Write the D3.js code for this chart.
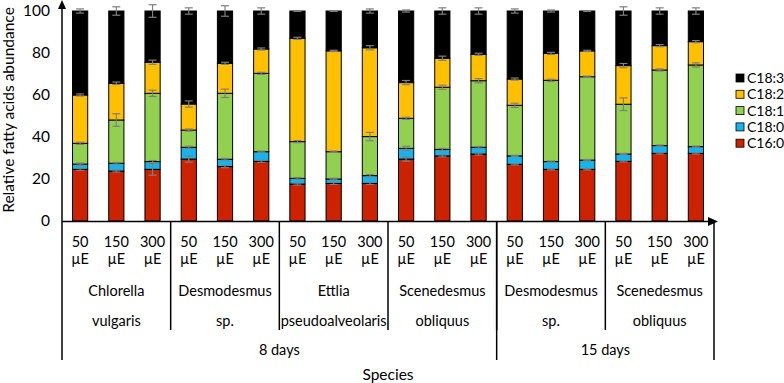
<!DOCTYPE html>
<html>
<head>
<meta charset="utf-8">
<script src="https://cdn.jsdelivr.net/npm/d3@7"></script>
<style>
  body { margin: 0; background: #fff; }
  text { font-family: Lato, "Open Sans", sans-serif; fill: #000; }
</style>
</head>
<body>
<div id="chart"></div>
<script>
// light intensities (one bar each) and groups
const lights = ["50", "150", "300"];
const species = [
  ["Chlorella", "vulgaris"],
  ["Desmodesmus", "sp."],
  ["Ettlia", "pseudoalveolaris"],
  ["Scenedesmus", "obliquus"],
  ["Desmodesmus", "sp."],
  ["Scenedesmus", "obliquus"]
];
const periods = [
  { label: "8 days", groups: 4 },
  { label: "15 days", groups: 2 }
];
const seriesNames = ["C16:0", "C18:0", "C18:1", "C18:2", "C18:3"];
const seriesColors = ["#cc2200", "#16b4ec", "#92d050", "#ffc000", "#000000"];

// values per bar (18 bars, in order of species x light)
const c160 = [24.6, 23.8, 24.6, 29.5, 25.9, 28.4, 17.6, 17.9, 17.9, 29.5, 31.0, 31.9, 27.0, 24.6, 24.6, 28.4, 32.2, 32.2];
const c180 = [2.5, 3.7, 3.7, 5.6, 3.5, 4.6, 2.7, 2.1, 3.7, 5.1, 3.1, 3.2, 4.0, 3.7, 4.4, 3.5, 3.7, 3.2];
const c181 = [9.9, 20.6, 32.5, 8.2, 31.4, 37.3, 17.5, 13.0, 18.6, 14.3, 29.6, 31.7, 24.1, 38.7, 39.7, 23.7, 36.0, 38.9];
const c182 = [23.0, 17.5, 14.8, 12.4, 14.3, 11.6, 49.2, 48.0, 42.3, 17.0, 13.8, 12.6, 12.5, 12.8, 12.3, 18.4, 11.6, 11.1];
const c183 = [40.0, 34.4, 24.4, 44.3, 24.9, 18.1, 13.0, 19.0, 17.5, 34.1, 22.5, 20.6, 32.4, 20.2, 19.0, 26.0, 16.5, 14.6];

// error bars (+/-) for each segment
const e160 = [0.5, 0.5, 2.8, 1.5, 0.5, 0.5, 0.5, 0.5, 0.5, 1.0, 0.5, 0.5, 0.3, 0.3, 0.3, 0.3, 0.3, 0.3];
const e180 = [0.5, 0.4, 0.5, 0.5, 0.4, 0.3, 0.4, 0.4, 0.5, 1.0, 0.5, 0.4, 0.3, 0.3, 0.3, 0.3, 0.3, 0.3];
const e181 = [0.5, 3.0, 1.5, 0.5, 2.0, 0.5, 0.5, 0.3, 2.0, 0.5, 1.0, 1.0, 1.0, 0.5, 0.3, 3.0, 0.5, 1.0];
const e182 = [0.5, 0.6, 1.0, 1.5, 0.5, 0.5, 0.5, 0.3, 1.0, 1.0, 1.0, 0.5, 0.5, 0.5, 0.3, 1.0, 0.5, 0.5];
const e183 = [1.0, 2.0, 3.0, 1.5, 2.5, 1.5, 0.2, 0.2, 1.0, 0.5, 1.5, 1.5, 1.0, 0.5, 0.2, 2.0, 1.5, 1.5];

const values = [c160, c180, c181, c182, c183];
const errors = [e160, e180, e181, e182, e183];

const W = 784, H = 383;
const plotLeft = 62, plotRight = 714, plotTop = 11, plotBase = 221;

const svg = d3.select("#chart").append("svg")
  .attr("width", W).attr("height", H);

const bars = d3.range(species.length * lights.length);

const x = d3.scaleBand()
  .domain(bars)
  .range([plotLeft, plotRight])
  .paddingInner(0.58)
  .paddingOuter(0.29);

const y = d3.scaleLinear()
  .domain([0, 100])
  .range([plotBase, plotTop]);

// stack
const rows = bars.map(i => {
  let r = { i: i };
  seriesNames.forEach((s, k) => r[s] = values[k][i]);
  return r;
});
const stacked = d3.stack().keys(seriesNames)(rows);

const layer = svg.selectAll(".layer")
  .data(stacked)
  .join("g")
  .attr("class", "layer")
  .attr("fill", (d, k) => seriesColors[k]);

layer.selectAll("rect")
  .data(d => d)
  .join("rect")
  .attr("x", d => x(d.data.i))
  .attr("y", d => y(d[1]))
  .attr("width", x.bandwidth())
  .attr("height", d => y(d[0]) - y(d[1]))
  .attr("stroke", "#000")
  .attr("stroke-width", 1);

// error bars
const errG = svg.append("g")
  .attr("stroke", "#7f7f7f")
  .attr("stroke-width", 1.2);
stacked.forEach((s, k) => {
  s.forEach(d => {
    const e = errors[k][d.data.i];
    const cx = x(d.data.i) + x.bandwidth() / 2;
    const y1 = y(d[1] + e), y2 = y(d[1] - e);
    errG.append("line").attr("x1", cx).attr("x2", cx).attr("y1", y1).attr("y2", y2);
    errG.append("line").attr("x1", cx - 4).attr("x2", cx + 4).attr("y1", y1).attr("y2", y1);
    errG.append("line").attr("x1", cx - 4).attr("x2", cx + 4).attr("y1", y2).attr("y2", y2);
  });
});

// y axis
const yAxis = svg.append("g")
  .attr("transform", `translate(${plotLeft},0)`)
  .call(d3.axisLeft(y).tickValues([0, 20, 40, 60, 80, 100]).tickSize(0).tickPadding(12));
yAxis.select(".domain").remove();
yAxis.selectAll("text").style("font-size", "15.5px").style("font-family", "Lato, 'Open Sans', sans-serif");

svg.append("line")
  .attr("x1", plotLeft).attr("x2", plotLeft)
  .attr("y1", 8).attr("y2", 360)
  .attr("stroke", "#000").attr("stroke-width", 1.5);
svg.append("path")
  .attr("d", `M${plotLeft - 4},9 L${plotLeft},0 L${plotLeft + 4},9 Z`)
  .attr("fill", "#000");

// x axis line and arrow
svg.append("line")
  .attr("x1", plotLeft).attr("x2", plotRight - 2)
  .attr("y1", plotBase + 0.5).attr("y2", plotBase + 0.5)
  .attr("stroke", "#000").attr("stroke-width", 1.5);
svg.append("path")
  .attr("d", `M${plotRight - 6},${plotBase - 4} L${plotRight + 4},${plotBase + 0.5} L${plotRight - 6},${plotBase + 5} Z`)
  .attr("fill", "#000");

// light labels
const lab = svg.append("g").style("font-size", "14.5px");
bars.forEach(i => {
  const cx = x(i) + x.bandwidth() / 2;
  lab.append("text").attr("x", cx).attr("y", 247).attr("text-anchor", "middle").text(lights[i % 3]);
  lab.append("text").attr("x", cx).attr("y", 264).attr("text-anchor", "middle").text("µE");
});

// species labels and separators
const step = x.step();
species.forEach((sp, g) => {
  const x0 = plotLeft + g * 3 * step;
  const cx = x0 + 1.5 * step;
  lab.append("text").attr("x", cx).attr("y", 296).attr("text-anchor", "middle").text(sp[0]);
  lab.append("text").attr("x", cx).attr("y", 326).attr("text-anchor", "middle").text(sp[1]);
  if (g > 0) {
    svg.append("line")
      .attr("x1", x0).attr("x2", x0)
      .attr("y1", plotBase).attr("y2", 330)
      .attr("stroke", "#000").attr("stroke-width", 1.5);
  }
});

// period labels
let gi = 0;
periods.forEach(p => {
  const x0 = plotLeft + gi * 3 * step;
  const x1 = x0 + p.groups * 3 * step;
  lab.append("text").attr("x", (x0 + x1) / 2).attr("y", 355).attr("text-anchor", "middle").text(p.label);
  svg.append("line")
    .attr("x1", x1).attr("x2", x1)
    .attr("y1", plotBase).attr("y2", 360)
    .attr("stroke", "#000").attr("stroke-width", 1.5);
  gi += p.groups;
});

// axis titles
svg.append("text")
  .attr("x", (plotLeft + plotRight) / 2).attr("y", 380)
  .attr("text-anchor", "middle")
  .style("font-size", "15.5px")
  .text("Species");

svg.append("text")
  .attr("transform", "rotate(-90)")
  .attr("x", -110).attr("y", 14)
  .attr("text-anchor", "middle")
  .style("font-size", "15.5px")
  .text("Relative fatty acids abundance");

// legend (top entry is last series)
const legend = svg.append("g").attr("transform", "translate(736,78)");
seriesNames.slice().reverse().forEach((s, j) => {
  const k = seriesNames.length - 1 - j;
  const g = legend.append("g").attr("transform", `translate(0,${j * 16.3})`);
  g.append("rect").attr("x", 0).attr("y", -4).attr("width", 8).attr("height", 8)
    .attr("fill", seriesColors[k]).attr("stroke", "#000").attr("stroke-width", 0.8);
  g.append("text").attr("x", 11).attr("y", 5).style("font-size", "14px").text(s);
});
</script>
</body>
</html>
